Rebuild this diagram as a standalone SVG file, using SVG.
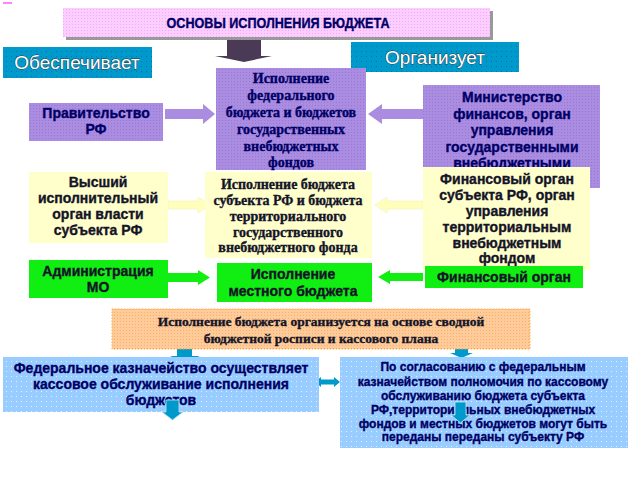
<svg xmlns="http://www.w3.org/2000/svg" width="630" height="479" viewBox="0 0 630 479">
<defs>
<pattern id="dotW" width="5" height="5" patternUnits="userSpaceOnUse"><rect x="1" y="1" width="1" height="1" fill="#ffffff" opacity="0.7"/></pattern>
<pattern id="dotD" width="5" height="5" patternUnits="userSpaceOnUse"><rect x="1" y="1" width="1" height="1" fill="#003355" opacity="0.35"/></pattern>
<pattern id="dotO" width="3" height="3" patternUnits="userSpaceOnUse"><rect width="1" height="1" fill="#ee9955" opacity="0.6"/></pattern>
<pattern id="dotP" width="3" height="3" patternUnits="userSpaceOnUse"><rect width="1" height="1" fill="#8866cc" opacity="0.5"/></pattern>
</defs>
<style>
.t{font-family:"Liberation Sans",Arial,sans-serif;font-weight:bold;text-anchor:middle;stroke-width:0.35}
.s{font-family:"Liberation Serif","Times New Roman",serif;font-weight:bold;text-anchor:middle;stroke-width:0.35}
.navy{fill:#000066;stroke:#000066}
.blk{fill:#141428;stroke:#141428}
.purple{fill:#aa8ce0}
.yellow{fill:#ffffcc}
.green{fill:#11ee11}
.lblue{fill:#99ccff}
.head{fill:#0099cc}
.hdr{font-family:"Liberation Sans",Arial,sans-serif;font-size:19px;fill:#ffffff;stroke:#333333;stroke-width:0.8;paint-order:stroke;text-anchor:middle}
</style>
<rect width="630" height="479" fill="#ffffff"/>
<rect x="3" y="2" width="9" height="2" fill="#ff66ff" opacity="0.8"/>

<g id="connectors">
<polygon points="227,37 261,37 261,56 272,56 244,62 215,56 227,56" fill="#4a3a55"/>
<polygon points="165,109 203,109 203,104 215,114 203,124 203,119 165,119" fill="#aa8ce0"/>
<polygon points="423,109 382,109 382,104 368,114 382,124 382,119 423,119" fill="#aa8ce0"/>
<polygon points="168,201 198,201 198,197 210,205 198,213 198,209 168,209" fill="#ffffbb" stroke="#f4f4c8" stroke-width="0.8"/>
<polygon points="423,201 387,201 387,197 375,205 387,213 387,209 423,209" fill="#ffffbb" stroke="#f4f4c8" stroke-width="0.8"/>
<polygon points="168,273 198,273 198,270 210,277.5 198,285 198,282 168,282" fill="#11ee11"/>
<polygon points="423,273 390,273 390,270 378,277 390,284 390,281 423,281" fill="#11ee11"/>
<polygon points="177,343 192,343 192,356 200,356 185,362 170,356 177,356" fill="#0099cc"/>
<polygon points="455,343 468,343 468,353 473,353 461.5,358 450,353 455,353" fill="#0099cc"/>
<polygon points="315,382 321,377 321,379.5 334,379.5 334,377 340,382 334,387 334,384.5 321,384.5 321,387" fill="#0099cc"/>
</g>

<g id="title">
<rect x="66" y="11" width="427" height="29" fill="#999999"/>
<rect x="63" y="8" width="427" height="29" fill="#ffccff"/>
<rect x="63" y="8" width="427" height="29" fill="url(#dotP)" opacity="0.5"/>
<text x="278" y="27.5" class="t navy" font-size="14" textLength="223" lengthAdjust="spacingAndGlyphs">ОСНОВЫ ИСПОЛНЕНИЯ БЮДЖЕТА</text>
</g>

<g id="obespechivaet">
<rect x="3" y="47" width="149" height="31" class="head"/>
<rect x="3" y="47" width="149" height="31" fill="url(#dotD)"/>
<text x="77" y="69" class="hdr">Обеспечивает</text>
</g>

<g id="organizuet">
<rect x="351" y="42" width="168" height="30" class="head"/>
<rect x="351" y="42" width="168" height="30" fill="url(#dotD)"/>
<text x="435" y="64" class="hdr">Организует</text>
</g>

<g id="federal">
<rect x="216" y="68" width="150" height="102" class="purple"/>
<rect x="216" y="68" width="150" height="102" fill="url(#dotP)"/>
<text class="s navy" font-size="14"><tspan x="291" y="83">Исполнение</tspan><tspan x="291" y="100">федерального</tspan><tspan x="291" y="117">бюджета и бюджетов</tspan><tspan x="291" y="134">государственных</tspan><tspan x="291" y="151">внебюджетных</tspan><tspan x="291" y="167">фондов</tspan></text>
</g>

<g id="pravitelstvo">
<rect x="29" y="103" width="134" height="38" class="purple"/>
<rect x="29" y="103" width="134" height="38" fill="url(#dotP)"/>
<text class="t navy" font-size="14"><tspan x="96" y="118">Правительство</tspan><tspan x="96" y="134">РФ</tspan></text>
</g>

<g id="minfin">
<rect x="423" y="85" width="177" height="103" class="purple"/>
<rect x="423" y="85" width="177" height="103" fill="url(#dotP)"/>
<text class="t navy" font-size="14"><tspan x="512" y="102">Министерство</tspan><tspan x="512" y="118.5">финансов, орган</tspan><tspan x="512" y="135">управления</tspan><tspan x="512" y="151.5">государственными</tspan><tspan x="512" y="168">внебюджетными</tspan></text>
</g>

<g id="vysshiy">
<rect x="29" y="172" width="139" height="71" class="yellow"/>
<text class="t blk" font-size="14"><tspan x="98" y="187">Высший</tspan><tspan x="98" y="203">исполнительный</tspan><tspan x="98" y="219">орган власти</tspan><tspan x="98" y="235">субъекта РФ</tspan></text>
</g>

<g id="subekt">
<rect x="205" y="172" width="167" height="86" class="yellow"/>
<text class="s blk" font-size="14"><tspan x="288" y="189">Исполнение бюджета</tspan><tspan x="288" y="205">субъекта РФ и бюджета</tspan><tspan x="288" y="221">территориального</tspan><tspan x="288" y="237">государственного</tspan><tspan x="288" y="252">внебюджетного фонда</tspan></text>
</g>

<g id="finorgan-subekt">
<rect x="423" y="167" width="167" height="103" class="yellow"/>
<text class="t blk" font-size="14"><tspan x="507" y="184">Финансовый орган</tspan><tspan x="507" y="200">субъекта РФ, орган</tspan><tspan x="507" y="216">управления</tspan><tspan x="507" y="232">территориальным</tspan><tspan x="507" y="248">внебюджетным</tspan><tspan x="507" y="263">фондом</tspan></text>
</g>

<g id="administraciya">
<rect x="29" y="260" width="139" height="38" class="green"/>
<text class="t blk" font-size="14"><tspan x="98" y="276">Администрация</tspan><tspan x="98" y="292">МО</tspan></text>
</g>

<g id="mestny">
<rect x="217" y="263" width="155" height="39" class="green"/>
<text class="t blk" font-size="14"><tspan x="293" y="279">Исполнение</tspan><tspan x="293" y="296">местного бюджета</tspan></text>
</g>

<g id="finorgan">
<rect x="425" y="266" width="158" height="22" class="green"/>
<text x="504" y="282" class="t blk" font-size="14">Финансовый орган</text>
</g>

<g id="rospis">
<rect x="112" y="309" width="418" height="40" fill="#ffcc99" stroke="#ffaa44" stroke-width="1" stroke-dasharray="1.5 1.5"/>
<rect x="112" y="309" width="418" height="40" fill="url(#dotO)"/>
<text class="s blk" font-size="13.5"><tspan x="321" y="326">Исполнение бюджета организуется на основе сводной</tspan><tspan x="321" y="343">бюджетной росписи и кассового плана</tspan></text>
</g>

<g id="kaznacheystvo">
<rect x="3" y="357" width="316" height="55" class="lblue"/>
<rect x="3" y="357" width="316" height="55" fill="url(#dotW)"/>
<text class="t navy" font-size="14"><tspan x="161" y="373">Федеральное казначейство осуществляет</tspan><tspan x="161" y="389">кассовое обслуживание исполнения</tspan><tspan x="161" y="405">бюджетов</tspan></text>
<polygon points="166,400 179,400 179,412 183,412 172.5,420 162,412 166,412" fill="#0099cc" stroke="#bfe6f5" stroke-width="0.8"/>
</g>

<g id="soglasovanie">
<rect x="340" y="357" width="288" height="91" class="lblue"/>
<rect x="340" y="357" width="288" height="91" fill="url(#dotW)"/>
<text class="t navy" font-size="12"><tspan x="483" y="371">По согласованию с федеральным</tspan><tspan x="483" y="386">казначейством полномочия  по кассовому</tspan><tspan x="483" y="400">обслуживанию  бюджета субъекта</tspan><tspan x="483" y="414">РФ,территориальных  внебюджетных</tspan><tspan x="483" y="428">фондов и местных  бюджетов  могут  быть</tspan><tspan x="483" y="441">переданы переданы субъекту РФ</tspan></text>
<polygon points="455,402 466,402 466,415 470,415 460.5,423 451,415 455,415" fill="#0099cc" stroke="#bfe6f5" stroke-width="0.8"/>
</g>
</svg>
